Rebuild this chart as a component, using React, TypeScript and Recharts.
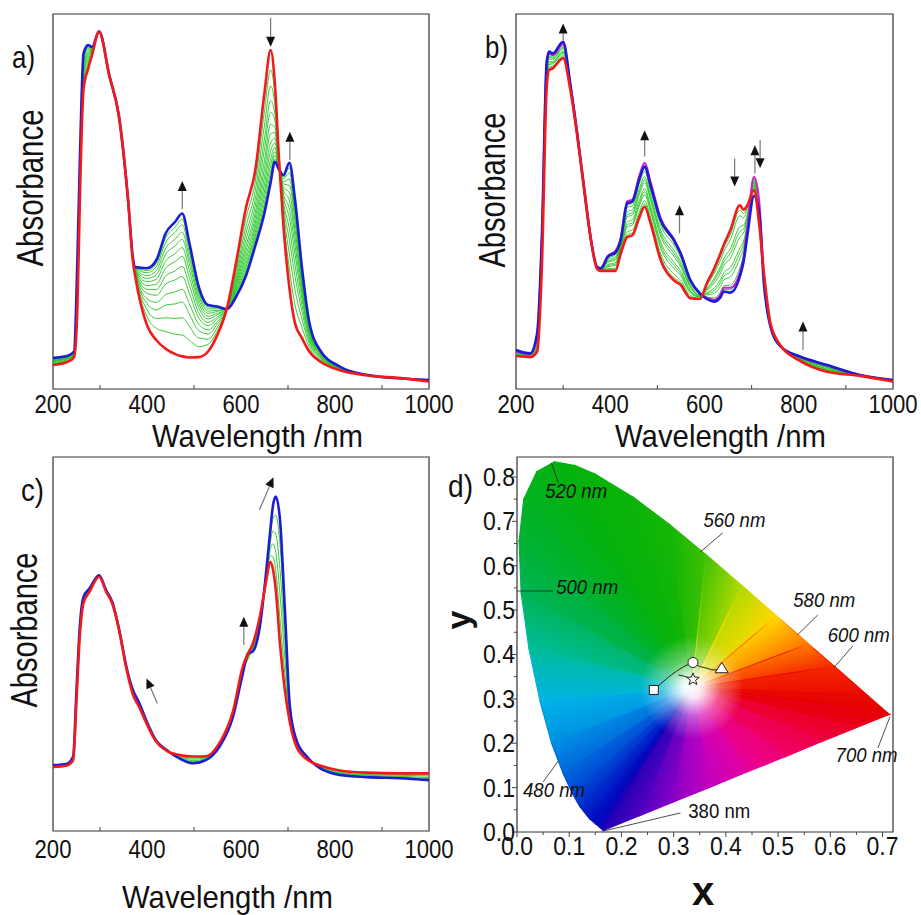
import {
  LineChart,
  Line,
  XAxis,
  YAxis,
  ReferenceArea,
  ReferenceLine,
  ReferenceDot,
  ComposedChart,
  Area,
  Scatter,
} from "recharts";

const FONT = "'Liberation Sans', Arial, Helvetica, sans-serif";
const INK = "#111";
const BLUE = "#1c1cd2";
const RED = "#f21a1a";
const GREEN = "#24c424";
const MAGENTA = "#cf22cf";

const WL_TICKS = [200, 300, 400, 500, 600, 700, 800, 900, 1000];

// ---- panel a: absorbance vs wavelength (arbitrary units 0..1)
const A_WL = [200, 230, 245, 252, 258, 265, 275, 283, 298, 320, 340, 360, 370, 375, 400, 420, 440, 460, 475, 490, 510, 530, 550, 570, 590, 610, 630, 650, 663, 672, 681, 690, 703, 715, 730, 745, 770, 810, 870, 940, 1000];
const A_BLUE = [0.083, 0.088, 0.1, 0.35, 0.65, 0.895, 0.917, 0.912, 0.953, 0.835, 0.73, 0.5, 0.35, 0.325, 0.322, 0.344, 0.416, 0.446, 0.468, 0.39, 0.273, 0.224, 0.22, 0.213, 0.247, 0.3, 0.38, 0.47, 0.55, 0.606, 0.585, 0.57, 0.603, 0.504, 0.32, 0.18, 0.1, 0.06, 0.037, 0.028, 0.024];
const A_RED = [0.064, 0.072, 0.085, 0.22, 0.55, 0.8, 0.855, 0.89, 0.953, 0.835, 0.73, 0.5, 0.34, 0.3, 0.17, 0.13, 0.107, 0.093, 0.087, 0.084, 0.085, 0.1, 0.145, 0.215, 0.34, 0.48, 0.58, 0.79, 0.904, 0.816, 0.61, 0.44, 0.27, 0.175, 0.135, 0.1, 0.072, 0.05, 0.036, 0.029, 0.02];
const A_GREEN = [
  [0.067, 0.074, 0.087, 0.24, 0.565, 0.814, 0.864, 0.893, 0.953, 0.835, 0.73, 0.5, 0.342, 0.304, 0.193, 0.162, 0.153, 0.146, 0.144, 0.13, 0.113, 0.119, 0.156, 0.214, 0.326, 0.453, 0.55, 0.742, 0.851, 0.785, 0.606, 0.46, 0.32, 0.224, 0.163, 0.112, 0.076, 0.052, 0.036, 0.029, 0.021],
  [0.069, 0.076, 0.089, 0.255, 0.577, 0.826, 0.872, 0.896, 0.953, 0.835, 0.73, 0.5, 0.343, 0.307, 0.211, 0.188, 0.19, 0.188, 0.19, 0.167, 0.136, 0.133, 0.165, 0.214, 0.315, 0.431, 0.526, 0.704, 0.808, 0.759, 0.603, 0.475, 0.36, 0.264, 0.185, 0.122, 0.08, 0.053, 0.036, 0.029, 0.021],
  [0.071, 0.078, 0.091, 0.27, 0.59, 0.836, 0.879, 0.898, 0.953, 0.835, 0.73, 0.5, 0.344, 0.31, 0.228, 0.211, 0.224, 0.227, 0.232, 0.2, 0.156, 0.147, 0.174, 0.214, 0.305, 0.412, 0.504, 0.668, 0.769, 0.736, 0.6, 0.49, 0.397, 0.3, 0.205, 0.13, 0.083, 0.054, 0.036, 0.029, 0.022],
  [0.073, 0.08, 0.092, 0.281, 0.597, 0.845, 0.884, 0.9, 0.953, 0.835, 0.73, 0.5, 0.345, 0.312, 0.241, 0.231, 0.252, 0.259, 0.266, 0.228, 0.173, 0.158, 0.18, 0.214, 0.296, 0.395, 0.486, 0.64, 0.738, 0.717, 0.598, 0.501, 0.427, 0.33, 0.222, 0.138, 0.085, 0.055, 0.036, 0.029, 0.022],
  [0.075, 0.081, 0.093, 0.29, 0.61, 0.853, 0.89, 0.902, 0.953, 0.835, 0.73, 0.5, 0.346, 0.314, 0.255, 0.25, 0.28, 0.291, 0.3, 0.255, 0.19, 0.169, 0.187, 0.214, 0.288, 0.379, 0.468, 0.61, 0.706, 0.698, 0.596, 0.513, 0.456, 0.359, 0.239, 0.145, 0.088, 0.056, 0.037, 0.029, 0.022],
  [0.076, 0.082, 0.094, 0.302, 0.613, 0.86, 0.894, 0.904, 0.953, 0.835, 0.73, 0.5, 0.346, 0.316, 0.266, 0.265, 0.302, 0.315, 0.327, 0.277, 0.203, 0.178, 0.192, 0.214, 0.281, 0.367, 0.454, 0.588, 0.681, 0.684, 0.594, 0.522, 0.48, 0.382, 0.252, 0.15, 0.09, 0.056, 0.037, 0.029, 0.022],
  [0.077, 0.083, 0.096, 0.31, 0.62, 0.867, 0.898, 0.905, 0.953, 0.835, 0.73, 0.5, 0.347, 0.318, 0.276, 0.28, 0.323, 0.34, 0.354, 0.298, 0.217, 0.187, 0.198, 0.214, 0.275, 0.354, 0.44, 0.566, 0.656, 0.669, 0.593, 0.531, 0.503, 0.405, 0.265, 0.156, 0.092, 0.057, 0.037, 0.028, 0.023],
  [0.078, 0.084, 0.096, 0.319, 0.626, 0.872, 0.902, 0.907, 0.953, 0.835, 0.73, 0.5, 0.348, 0.319, 0.286, 0.293, 0.342, 0.361, 0.377, 0.317, 0.228, 0.194, 0.202, 0.214, 0.269, 0.343, 0.428, 0.547, 0.635, 0.656, 0.591, 0.539, 0.523, 0.425, 0.276, 0.161, 0.093, 0.058, 0.037, 0.028, 0.023],
  [0.08, 0.085, 0.097, 0.33, 0.63, 0.878, 0.906, 0.908, 0.953, 0.835, 0.73, 0.5, 0.348, 0.32, 0.295, 0.305, 0.36, 0.382, 0.399, 0.335, 0.239, 0.202, 0.207, 0.214, 0.264, 0.332, 0.416, 0.528, 0.614, 0.644, 0.59, 0.547, 0.543, 0.445, 0.287, 0.166, 0.095, 0.058, 0.037, 0.028, 0.023],
  [0.081, 0.086, 0.098, 0.333, 0.637, 0.883, 0.909, 0.909, 0.953, 0.835, 0.73, 0.5, 0.349, 0.322, 0.302, 0.316, 0.376, 0.4, 0.418, 0.35, 0.249, 0.208, 0.21, 0.214, 0.259, 0.323, 0.406, 0.512, 0.596, 0.633, 0.588, 0.553, 0.56, 0.461, 0.296, 0.17, 0.096, 0.059, 0.037, 0.028, 0.023],
  [0.081, 0.087, 0.099, 0.34, 0.64, 0.887, 0.912, 0.91, 0.953, 0.835, 0.73, 0.5, 0.349, 0.323, 0.31, 0.327, 0.391, 0.418, 0.438, 0.366, 0.258, 0.214, 0.214, 0.214, 0.254, 0.314, 0.396, 0.496, 0.578, 0.623, 0.587, 0.56, 0.576, 0.478, 0.305, 0.174, 0.098, 0.059, 0.037, 0.028, 0.024],
  [0.082, 0.087, 0.099, 0.345, 0.646, 0.891, 0.915, 0.911, 0.953, 0.835, 0.73, 0.5, 0.35, 0.324, 0.316, 0.335, 0.404, 0.432, 0.453, 0.378, 0.265, 0.219, 0.217, 0.214, 0.251, 0.307, 0.388, 0.483, 0.564, 0.614, 0.586, 0.565, 0.59, 0.491, 0.313, 0.177, 0.099, 0.06, 0.037, 0.028, 0.024],
];
const A_ARROWS = [
  { x1: 475, y1: 0.48, x2: 475, y2: 0.555 },
  { x1: 663, y1: 0.99, x2: 663, y2: 0.913 },
  { x1: 704, y1: 0.61, x2: 704, y2: 0.686 },
];

// ---- panel b
const B_WL = [200, 230, 245, 255, 265, 270, 278, 300, 315, 330, 345, 358, 372, 380, 395, 411, 422, 436, 447, 461, 473, 486, 507, 535, 549, 570, 590, 605, 620, 634, 641, 655, 675, 683, 691, 705, 716, 726, 740, 762, 800, 860, 930, 1000];
const B_BLUE = [0.104, 0.095, 0.15, 0.41, 0.87, 0.9, 0.895, 0.926, 0.815, 0.68, 0.53, 0.406, 0.326, 0.322, 0.353, 0.364, 0.397, 0.495, 0.5, 0.557, 0.593, 0.54, 0.45, 0.397, 0.362, 0.29, 0.255, 0.24, 0.233, 0.245, 0.26, 0.257, 0.3, 0.34, 0.41, 0.515, 0.47, 0.282, 0.166, 0.113, 0.088, 0.064, 0.037, 0.024];
const B_RED = [0.088, 0.085, 0.1, 0.33, 0.8, 0.85, 0.855, 0.882, 0.8, 0.675, 0.53, 0.406, 0.32, 0.315, 0.315, 0.315, 0.36, 0.405, 0.41, 0.455, 0.486, 0.44, 0.344, 0.29, 0.278, 0.242, 0.24, 0.282, 0.32, 0.362, 0.385, 0.424, 0.49, 0.478, 0.49, 0.53, 0.44, 0.31, 0.175, 0.115, 0.077, 0.046, 0.035, 0.02];
const B_MAGENTA = [0.1, 0.093, 0.14, 0.4, 0.86, 0.895, 0.89, 0.92, 0.812, 0.68, 0.53, 0.406, 0.325, 0.322, 0.355, 0.368, 0.4, 0.5, 0.505, 0.565, 0.603, 0.55, 0.455, 0.4, 0.365, 0.29, 0.255, 0.243, 0.238, 0.252, 0.27, 0.27, 0.31, 0.35, 0.43, 0.566, 0.5, 0.3, 0.17, 0.113, 0.087, 0.063, 0.037, 0.024];
const B_GREEN = [
  [0.089, 0.086, 0.104, 0.336, 0.805, 0.854, 0.858, 0.885, 0.801, 0.675, 0.53, 0.406, 0.32, 0.315, 0.318, 0.318, 0.363, 0.411, 0.416, 0.462, 0.493, 0.447, 0.351, 0.297, 0.284, 0.245, 0.241, 0.279, 0.314, 0.354, 0.376, 0.412, 0.477, 0.468, 0.484, 0.532, 0.442, 0.308, 0.174, 0.115, 0.078, 0.047, 0.035, 0.02],
  [0.09, 0.087, 0.108, 0.342, 0.81, 0.858, 0.861, 0.889, 0.802, 0.676, 0.53, 0.406, 0.321, 0.316, 0.321, 0.322, 0.366, 0.419, 0.424, 0.47, 0.502, 0.455, 0.36, 0.306, 0.291, 0.249, 0.242, 0.276, 0.307, 0.344, 0.366, 0.399, 0.462, 0.457, 0.478, 0.535, 0.445, 0.306, 0.174, 0.115, 0.079, 0.049, 0.035, 0.021],
  [0.093, 0.088, 0.115, 0.354, 0.821, 0.865, 0.867, 0.895, 0.805, 0.677, 0.53, 0.406, 0.322, 0.317, 0.326, 0.33, 0.371, 0.432, 0.437, 0.486, 0.518, 0.47, 0.376, 0.322, 0.303, 0.256, 0.245, 0.269, 0.294, 0.327, 0.348, 0.374, 0.433, 0.437, 0.466, 0.54, 0.45, 0.302, 0.172, 0.114, 0.08, 0.051, 0.036, 0.021],
  [0.094, 0.089, 0.119, 0.36, 0.826, 0.869, 0.87, 0.898, 0.806, 0.677, 0.53, 0.406, 0.322, 0.318, 0.329, 0.333, 0.374, 0.438, 0.443, 0.493, 0.526, 0.477, 0.383, 0.33, 0.309, 0.26, 0.246, 0.266, 0.288, 0.319, 0.339, 0.362, 0.42, 0.427, 0.46, 0.542, 0.451, 0.3, 0.172, 0.114, 0.081, 0.053, 0.036, 0.021],
  [0.095, 0.09, 0.123, 0.366, 0.832, 0.873, 0.873, 0.902, 0.807, 0.677, 0.53, 0.406, 0.323, 0.318, 0.332, 0.337, 0.377, 0.446, 0.451, 0.501, 0.534, 0.485, 0.392, 0.338, 0.316, 0.264, 0.247, 0.263, 0.281, 0.309, 0.329, 0.349, 0.405, 0.416, 0.454, 0.545, 0.455, 0.297, 0.171, 0.114, 0.082, 0.054, 0.036, 0.022],
  [0.098, 0.091, 0.13, 0.378, 0.842, 0.88, 0.879, 0.908, 0.809, 0.678, 0.53, 0.406, 0.324, 0.319, 0.338, 0.344, 0.382, 0.459, 0.464, 0.516, 0.55, 0.5, 0.408, 0.354, 0.328, 0.271, 0.249, 0.257, 0.268, 0.292, 0.31, 0.324, 0.376, 0.395, 0.442, 0.55, 0.46, 0.293, 0.17, 0.114, 0.084, 0.057, 0.036, 0.022],
  [0.099, 0.092, 0.134, 0.384, 0.847, 0.884, 0.882, 0.911, 0.81, 0.678, 0.53, 0.406, 0.324, 0.32, 0.34, 0.348, 0.385, 0.465, 0.47, 0.523, 0.558, 0.507, 0.415, 0.362, 0.334, 0.274, 0.25, 0.254, 0.262, 0.284, 0.301, 0.312, 0.363, 0.386, 0.436, 0.552, 0.46, 0.291, 0.169, 0.114, 0.084, 0.058, 0.036, 0.023],
  [0.1, 0.093, 0.138, 0.39, 0.853, 0.888, 0.885, 0.915, 0.811, 0.679, 0.53, 0.406, 0.325, 0.32, 0.344, 0.352, 0.388, 0.473, 0.478, 0.532, 0.566, 0.515, 0.424, 0.37, 0.341, 0.278, 0.251, 0.251, 0.255, 0.274, 0.291, 0.299, 0.348, 0.374, 0.43, 0.555, 0.465, 0.289, 0.168, 0.114, 0.085, 0.06, 0.037, 0.023],
  [0.102, 0.094, 0.144, 0.4, 0.862, 0.894, 0.89, 0.921, 0.813, 0.679, 0.53, 0.406, 0.325, 0.321, 0.348, 0.358, 0.393, 0.484, 0.489, 0.545, 0.58, 0.528, 0.437, 0.384, 0.352, 0.284, 0.253, 0.245, 0.243, 0.259, 0.275, 0.277, 0.323, 0.357, 0.42, 0.56, 0.47, 0.285, 0.167, 0.113, 0.087, 0.062, 0.037, 0.023],
  [0.103, 0.095, 0.148, 0.406, 0.867, 0.898, 0.893, 0.924, 0.814, 0.68, 0.53, 0.406, 0.326, 0.322, 0.351, 0.362, 0.395, 0.49, 0.496, 0.552, 0.588, 0.535, 0.445, 0.392, 0.358, 0.288, 0.254, 0.242, 0.237, 0.251, 0.266, 0.265, 0.31, 0.347, 0.414, 0.562, 0.469, 0.283, 0.166, 0.113, 0.087, 0.063, 0.037, 0.024],
];
const B_ARROWS = [
  { x1: 300, y1: 0.93, x2: 300, y2: 0.975 },
  { x1: 473, y1: 0.62, x2: 473, y2: 0.69 },
  { x1: 547, y1: 0.415, x2: 547, y2: 0.49 },
  { x1: 664, y1: 0.615, x2: 664, y2: 0.54 },
  { x1: 707, y1: 0.575, x2: 707, y2: 0.65 },
  { x1: 718, y1: 0.664, x2: 718, y2: 0.589 },
  { x1: 809, y1: 0.104, x2: 809, y2: 0.18 },
];

// ---- panel c
const C_WL = [200, 230, 243, 250, 257, 265, 278, 298, 313, 327, 341, 356, 370, 384, 398, 419, 441, 469, 498, 526, 554, 583, 604, 615, 625, 640, 654, 662, 668, 674, 683, 693, 704, 718, 740, 768, 810, 867, 938, 1000];
const C_BLUE = [0.176, 0.18, 0.2, 0.377, 0.546, 0.626, 0.649, 0.684, 0.644, 0.609, 0.537, 0.44, 0.377, 0.341, 0.297, 0.243, 0.217, 0.194, 0.181, 0.19, 0.225, 0.306, 0.422, 0.475, 0.48, 0.546, 0.698, 0.8, 0.87, 0.894, 0.832, 0.6, 0.332, 0.243, 0.199, 0.168, 0.15, 0.144, 0.141, 0.136];
const C_RED = [0.171, 0.175, 0.19, 0.35, 0.52, 0.61, 0.64, 0.68, 0.64, 0.605, 0.535, 0.435, 0.365, 0.33, 0.29, 0.24, 0.215, 0.203, 0.199, 0.2, 0.235, 0.32, 0.44, 0.475, 0.5, 0.573, 0.671, 0.72, 0.7, 0.645, 0.5, 0.38, 0.29, 0.225, 0.192, 0.175, 0.162, 0.156, 0.154, 0.154];
const C_GREEN = [
  [0.172, 0.176, 0.192, 0.355, 0.525, 0.613, 0.642, 0.681, 0.641, 0.606, 0.535, 0.436, 0.367, 0.332, 0.291, 0.241, 0.215, 0.201, 0.195, 0.198, 0.233, 0.317, 0.436, 0.465, 0.496, 0.568, 0.676, 0.736, 0.734, 0.695, 0.566, 0.424, 0.298, 0.229, 0.193, 0.174, 0.16, 0.154, 0.151, 0.15],
  [0.173, 0.177, 0.194, 0.361, 0.53, 0.616, 0.644, 0.682, 0.642, 0.607, 0.536, 0.437, 0.37, 0.334, 0.293, 0.241, 0.216, 0.199, 0.192, 0.196, 0.231, 0.314, 0.433, 0.46, 0.492, 0.562, 0.682, 0.752, 0.768, 0.745, 0.633, 0.468, 0.307, 0.232, 0.195, 0.172, 0.157, 0.151, 0.149, 0.147],
  [0.174, 0.178, 0.196, 0.366, 0.536, 0.62, 0.645, 0.682, 0.642, 0.607, 0.536, 0.438, 0.372, 0.337, 0.294, 0.242, 0.216, 0.198, 0.188, 0.194, 0.229, 0.312, 0.429, 0.462, 0.488, 0.557, 0.687, 0.768, 0.802, 0.794, 0.699, 0.512, 0.315, 0.236, 0.196, 0.171, 0.155, 0.149, 0.146, 0.143],
  [0.175, 0.179, 0.198, 0.372, 0.541, 0.623, 0.647, 0.683, 0.643, 0.608, 0.537, 0.439, 0.375, 0.339, 0.296, 0.242, 0.217, 0.196, 0.185, 0.192, 0.227, 0.309, 0.426, 0.468, 0.484, 0.551, 0.693, 0.784, 0.836, 0.844, 0.766, 0.556, 0.324, 0.239, 0.198, 0.169, 0.152, 0.146, 0.144, 0.14],
];
const C_ARROWS = [
  { x1: 639, y1: 0.858, x2: 669, y2: 0.946 },
  { x1: 606, y1: 0.497, x2: 606, y2: 0.573 },
  { x1: 422, y1: 0.341, x2: 399, y2: 0.408 },
];

// ---- panel d: CIE 1931 chromaticity
const LOCUS_X = [0.166, 0.164, 0.158, 0.151, 0.139, 0.12, 0.106, 0.088, 0.066, 0.044, 0.023, 0.008, 0.004, 0.013, 0.038, 0.072, 0.111, 0.15, 0.223, 0.293, 0.362, 0.431, 0.497, 0.558, 0.608, 0.671, 0.697, 0.713];
const LOCUS_Y = [0.004, 0.005, 0.011, 0.018, 0.03, 0.058, 0.087, 0.133, 0.201, 0.295, 0.413, 0.538, 0.655, 0.75, 0.812, 0.834, 0.826, 0.806, 0.754, 0.692, 0.625, 0.555, 0.487, 0.424, 0.373, 0.308, 0.281, 0.265];
const PURPLE_X = [0.645, 0.58, 0.51, 0.44, 0.37, 0.3, 0.235];
const PURPLE_Y = [0.233, 0.202, 0.168, 0.135, 0.101, 0.068, 0.037];
const WHITE_POINT = { x: 0.335, y: 0.325 };
// colour at each boundary point: spectral locus first, then the purple line
const EDGE_COLORS = [
  "#2200b4", "#1800b8", "#0c04bc", "#0008c0", "#0014c4", "#0030cc", "#0048d4", "#0068dc", "#0090e2",
  "#00b4e6", "#00bc9c", "#00b456", "#00b234", "#00b222", "#02b216", "#04b210", "#06b20c", "#08b20a",
  "#0cb408", "#14b606", "#40c004", "#b0da00", "#ffd800", "#ff7800", "#f42800", "#ea0a00", "#e60400",
  "#e40000",
  "#ea0020", "#ee0044", "#f0006c", "#e4009e", "#c400c0", "#8a00c4", "#5000c0",
];
const CIE_LABELS = [
  { text: "520 nm", x: 0.054, y: 0.753, italic: true },
  { text: "560 nm", x: 0.357, y: 0.687, italic: true },
  { text: "500 nm", x: 0.075, y: 0.536, italic: true },
  { text: "580 nm", x: 0.529, y: 0.507, italic: true },
  { text: "600 nm", x: 0.595, y: 0.428, italic: true },
  { text: "700 nm", x: 0.61, y: 0.158, italic: true },
  { text: "480 nm", x: 0.0115, y: 0.079, italic: true },
  { text: "380 nm", x: 0.328, y: 0.032, italic: false },
];
const CIE_LEADERS = [
  { x1: 0.066, y1: 0.832, x2: 0.079, y2: 0.786 },
  { x1: 0.394, y1: 0.674, x2: 0.351, y2: 0.631 },
  { x1: 0.0, y1: 0.543, x2: 0.069, y2: 0.543 },
  { x1: 0.576, y1: 0.489, x2: 0.537, y2: 0.444 },
  { x1: 0.643, y1: 0.419, x2: 0.608, y2: 0.372 },
  { x1: 0.691, y1: 0.189, x2: 0.714, y2: 0.259 },
  { x1: 0.05, y1: 0.113, x2: 0.079, y2: 0.16 },
  { x1: 0.313, y1: 0.043, x2: 0.165, y2: 0.002 },
];
const TRACK_A = [
  { x: 0.262, y: 0.32 }, { x: 0.287, y: 0.346 }, { x: 0.305, y: 0.362 }, { x: 0.319, y: 0.3725 }, { x: 0.337, y: 0.382 },
];
const TRACK_B = [
  { x: 0.337, y: 0.382 }, { x: 0.346, y: 0.375 }, { x: 0.356, y: 0.371 }, { x: 0.364, y: 0.369 }, { x: 0.372, y: 0.366 }, { x: 0.381, y: 0.365 }, { x: 0.392, y: 0.369 },
];
const TRACK_C = [{ x: 0.309, y: 0.354 }, { x: 0.32, y: 0.351 }, { x: 0.337, y: 0.344 }];
const MARK_SQUARE = [{ x: 0.262, y: 0.32 }];
const MARK_CIRCLE = [{ x: 0.337, y: 0.382 }];
const MARK_TRIANGLE = [{ x: 0.392, y: 0.369 }];
const MARK_STAR = [{ x: 0.337, y: 0.344 }];
const CIE_X_TICKS = [0, 0.05, 0.1, 0.15, 0.2, 0.25, 0.3, 0.35, 0.4, 0.45, 0.5, 0.55, 0.6, 0.65, 0.7];
const CIE_Y_TICKS = [0, 0.05, 0.1, 0.15, 0.2, 0.25, 0.3, 0.35, 0.4, 0.45, 0.5, 0.55, 0.6, 0.65, 0.7, 0.75, 0.8];

function ArrowShape(p: any) {
  const { x1, y1, x2, y2 } = p;
  const dx = x2 - x1;
  const dy = y2 - y1;
  const len = Math.hypot(dx, dy) || 1;
  const ux = dx / len;
  const uy = dy / len;
  const hl = 10;
  const hw = 4.5;
  const bx = x2 - ux * hl;
  const by = y2 - uy * hl;
  const pts = `${x2},${y2} ${bx - uy * hw},${by + ux * hw} ${bx + uy * hw},${by - ux * hw}`;
  return (
    <g>
      <line x1={x1} y1={y1} x2={bx} y2={by} stroke="#777" strokeWidth={1.2} />
      <polygon points={pts} fill="#111" />
    </g>
  );
}

function wlTick(dy: number) {
  return (p: any) => {
    const v = p.payload.value;
    if (v % 200 !== 0) {
      return <line x1={p.x} x2={p.x} y1={p.y} y2={p.y - 4} stroke="#444" strokeWidth={1} />;
    }
    const s = String(v);
    return (
      <text x={p.x} y={p.y + dy} textAnchor="middle" fontFamily={FONT} fontSize={26} fill={INK}
        textLength={s.length * 12.3} lengthAdjust="spacingAndGlyphs">
        {s}
      </text>
    );
  };
}

type PanelProps = {
  wl: number[];
  blue: number[];
  red: number[];
  greens: number[][];
  magenta?: number[];
  arrows: { x1: number; y1: number; x2: number; y2: number }[];
  left: number;
  top: number;
  width: number;
  height: number;
  margin: { top: number; right: number; bottom: number; left: number };
  dy: number;
};

function SpectrumPanel({ wl, blue, red, greens, magenta, arrows, left, top, width, height, margin, dy }: PanelProps) {
  const rows = wl.map((w, i) => {
    const row: Record<string, number> = { wl: w, blue: blue[i], red: red[i] };
    greens.forEach((g, k) => {
      row["g" + k] = g[i];
    });
    if (magenta) row.mag = magenta[i];
    return row;
  });
  return (
    <div style={{ position: "absolute", left, top }}>
      <LineChart width={width} height={height} data={rows} margin={margin}>
        <XAxis type="number" dataKey="wl" domain={[200, 1000]} ticks={WL_TICKS} interval={0}
          tickSize={0} tickMargin={0} axisLine={false} tickLine={false} height={30}
          tick={wlTick(dy)} allowDataOverflow />
        <YAxis hide type="number" domain={[0, 1]} allowDataOverflow />
        {greens.map((_, k) => (
          <Line key={k} dataKey={"g" + k} type="monotone" stroke={GREEN} strokeWidth={0.9}
            dot={false} activeDot={false} isAnimationActive={false} />
        ))}
        {magenta && (
          <Line dataKey="mag" type="monotone" stroke={MAGENTA} strokeWidth={2.2}
            dot={false} activeDot={false} isAnimationActive={false} />
        )}
        <Line dataKey="blue" type="monotone" stroke={BLUE} strokeWidth={2.6}
          dot={false} activeDot={false} isAnimationActive={false} />
        <Line dataKey="red" type="monotone" stroke={RED} strokeWidth={2.6}
          dot={false} activeDot={false} isAnimationActive={false} />
        <ReferenceArea x1={200} x2={1000} y1={0} y2={1} fill="none" fillOpacity={0}
          stroke="#333" strokeWidth={1.2} />
        {arrows.map((a, i) => (
          <ReferenceLine key={i} segment={[{ x: a.x1, y: a.y1 }, { x: a.x2, y: a.y2 }]} shape={ArrowShape} />
        ))}
      </LineChart>
    </div>
  );
}

const isMajor = (v: number) => Math.abs(v * 10 - Math.round(v * 10)) < 1e-6;

function cieXTick(p: any) {
  const v = p.payload.value;
  const major = isMajor(v);
  return (
    <g>
      <line x1={p.x} x2={p.x} y1={p.y} y2={p.y + (major ? 5 : 3)} stroke="#444" />
      {major && (
        <text x={p.x} y={p.y + 23} textAnchor="middle" fontFamily={FONT} fontSize={25} fill={INK}
          textLength={32} lengthAdjust="spacingAndGlyphs">
          {v.toFixed(1)}
        </text>
      )}
    </g>
  );
}

function cieYTick(p: any) {
  const v = p.payload.value;
  const major = isMajor(v);
  return (
    <g>
      <line x1={p.x} x2={p.x - (major ? 5 : 3)} y1={p.y} y2={p.y} stroke="#444" />
      {major && (
        <text x={p.x - 2} y={p.y + 9} textAnchor="end" fontFamily={FONT} fontSize={25} fill={INK}
          textLength={32} lengthAdjust="spacingAndGlyphs">
          {v.toFixed(1)}
        </text>
      )}
    </g>
  );
}

function Star({ cx, cy }: any) {
  const pts: string[] = [];
  for (let i = 0; i < 10; i++) {
    const r = i % 2 === 0 ? 6.5 : 2.8;
    const a = -Math.PI / 2 + (i * Math.PI) / 5;
    pts.push(`${cx + r * Math.cos(a)},${cy + r * Math.sin(a)}`);
  }
  return <polygon points={pts.join(" ")} fill="#fff" stroke="#222" strokeWidth={1} />;
}

function CiePanel() {
  const boundary = [
    ...LOCUS_X.map((x, i) => ({ x, y: LOCUS_Y[i] })),
    ...PURPLE_X.map((x, i) => ({ x, y: PURPLE_Y[i] })),
  ];
  // each wedge runs from the white point to one edge segment. Its gradient lives in the
  // path's bounding box (which reaches down to y = 0); iso-colour lines run parallel to
  // the wedge's centre line so neighbouring wedges meet without hard seams.
  const wedges = boundary.map((p, i) => {
    const j = (i + 1) % boundary.length;
    const q = boundary[j];
    const xs = [WHITE_POINT.x, p.x, q.x];
    const xmin = Math.min(...xs);
    const xmax = Math.max(...xs);
    const ymax = Math.max(WHITE_POINT.y, p.y, q.y);
    const fx = (x: number) => (x - xmin) / (xmax - xmin);
    const fy = (y: number) => (ymax - y) / ymax;
    const w = { x: fx(WHITE_POINT.x), y: fy(WHITE_POINT.y) };
    const a = { x: fx(p.x), y: fy(p.y) };
    const b = { x: fx(q.x), y: fy(q.y) };
    let dx = (a.x + b.x) / 2 - w.x;
    let dy = (a.y + b.y) / 2 - w.y;
    const l = Math.hypot(dx, dy) || 1;
    dx /= l;
    dy /= l;
    const nx = -dy;
    const ny = dx;
    const sa = nx * (a.x - w.x) + ny * (a.y - w.y);
    const sb = nx * (b.x - w.x) + ny * (b.y - w.y);
    return {
      id: `cieEdge${i}`,
      from: EDGE_COLORS[i],
      to: EDGE_COLORS[j],
      g: { x1: w.x + nx * sa, y1: w.y + ny * sa, x2: w.x + nx * sb, y2: w.y + ny * sb },
      data: [WHITE_POINT, p, q, WHITE_POINT],
    };
  });
  const loop = [...boundary, boundary[0]];
  return (
    <div style={{ position: "absolute", left: 460, top: 440 }}>
      <ComposedChart width={460} height={460} margin={{ top: 17, right: 27, bottom: 38, left: 17 }}>
        <defs>
          {wedges.map((w) => (
            <linearGradient key={w.id} id={w.id} x1={w.g.x1} y1={w.g.y1} x2={w.g.x2} y2={w.g.y2}>
              <stop offset="0" stopColor={w.from} />
              <stop offset="1" stopColor={w.to} />
            </linearGradient>
          ))}
          <radialGradient id="cieWhite" cx="0.467" cy="0.61" r="0.14">
            <stop offset="0" stopColor="#fff" stopOpacity={1} />
            <stop offset="0.2" stopColor="#fff" stopOpacity={0.9} />
            <stop offset="0.55" stopColor="#fff" stopOpacity={0.35} />
            <stop offset="1" stopColor="#fff" stopOpacity={0} />
          </radialGradient>
        </defs>
        <XAxis type="number" dataKey="x" domain={[0, 0.72]} ticks={CIE_X_TICKS} interval={0}
          tickSize={0} tickMargin={0} axisLine={false} tickLine={false} height={30}
          tick={cieXTick} allowDataOverflow />
        <YAxis type="number" dataKey="y" domain={[0, 0.845]} ticks={CIE_Y_TICKS} interval={0}
          tickSize={0} tickMargin={0} axisLine={false} tickLine={false} width={40}
          tick={cieYTick} allowDataOverflow />
        {wedges.map((w) => (
          <Area key={w.id} data={w.data} dataKey="y" type="linear" fill={`url(#${w.id})`} fillOpacity={1}
            stroke={`url(#${w.id})`} strokeWidth={1.2} dot={false} activeDot={false} isAnimationActive={false} />
        ))}
        <Area data={loop} dataKey="y" type="linear" fill="url(#cieWhite)" fillOpacity={1}
          stroke="none" dot={false} activeDot={false} isAnimationActive={false} />
        {CIE_LEADERS.map((l, i) => (
          <ReferenceLine key={i} segment={[{ x: l.x1, y: l.y1 }, { x: l.x2, y: l.y2 }]}
            stroke="#222" strokeWidth={0.8} />
        ))}
        {CIE_LABELS.map((l, i) => (
          <ReferenceDot key={i} x={l.x} y={l.y} r={0}
            shape={(p: any) => (
              <text x={p.cx} y={p.cy} fontFamily={FONT} fontSize={21} fontStyle={l.italic ? "italic" : "normal"}
                fill={INK} textLength={62} lengthAdjust="spacingAndGlyphs">
                {l.text}
              </text>
            )} />
        ))}
        <Line data={TRACK_A} dataKey="y" type="monotone" stroke="#222" strokeWidth={1}
          dot={false} activeDot={false} isAnimationActive={false} />
        <Line data={TRACK_B} dataKey="y" type="monotone" stroke="#222" strokeWidth={1}
          dot={false} activeDot={false} isAnimationActive={false} />
        <Line data={TRACK_C} dataKey="y" type="monotone" stroke="#222" strokeWidth={1}
          dot={false} activeDot={false} isAnimationActive={false} />
        <Scatter data={MARK_SQUARE} dataKey="y" isAnimationActive={false}
          shape={(p: any) => <rect x={p.cx - 4.5} y={p.cy - 4.5} width={9} height={9} fill="#fff" stroke="#222" />} />
        <Scatter data={MARK_CIRCLE} dataKey="y" isAnimationActive={false}
          shape={(p: any) => <circle cx={p.cx} cy={p.cy} r={5} fill="#fff" stroke="#222" />} />
        <Scatter data={MARK_TRIANGLE} dataKey="y" isAnimationActive={false}
          shape={(p: any) => (
            <polygon points={`${p.cx},${p.cy - 6} ${p.cx - 6.5},${p.cy + 4.5} ${p.cx + 6.5},${p.cy + 4.5}`}
              fill="#fff" stroke="#222" />
          )} />
        <Scatter data={MARK_STAR} dataKey="y" isAnimationActive={false} shape={(p: any) => <Star cx={p.cx} cy={p.cy} />} />
        <ReferenceArea x1={0} x2={0.72} y1={0} y2={0.845} fill="none" fillOpacity={0} stroke="#333" strokeWidth={1.2} />
      </ComposedChart>
    </div>
  );
}

export default function App() {
  const title = { fontFamily: FONT, fill: INK };
  return (
    <div style={{ position: "absolute", left: 0, top: 0, width: 921, height: 915, background: "#fff" }}>
      <SpectrumPanel wl={A_WL} blue={A_BLUE} red={A_RED} greens={A_GREEN} arrows={A_ARROWS}
        left={0} top={0} width={470} height={440} margin={{ top: 14, right: 41, bottom: 21, left: 53 }} dy={24} />
      <SpectrumPanel wl={B_WL} blue={B_BLUE} red={B_RED} greens={B_GREEN} magenta={B_MAGENTA} arrows={B_ARROWS}
        left={460} top={0} width={461} height={440} margin={{ top: 14, right: 28, bottom: 21, left: 56 }} dy={24} />
      <SpectrumPanel wl={C_WL} blue={C_BLUE} red={C_RED} greens={C_GREEN} arrows={C_ARROWS}
        left={0} top={440} width={470} height={460} margin={{ top: 17, right: 41, bottom: 39, left: 53 }} dy={27} />
      <CiePanel />
      <svg width={921} height={915} style={{ position: "absolute", left: 0, top: 0, pointerEvents: "none" }}>
        <g {...title} fontSize={32}>
          <text x={12} y={68} textLength={23} lengthAdjust="spacingAndGlyphs">a)</text>
          <text x={485} y={58} textLength={23} lengthAdjust="spacingAndGlyphs">b)</text>
          <text x={21} y={501} textLength={23} lengthAdjust="spacingAndGlyphs">c)</text>
          <text x={448} y={497} textLength={25} lengthAdjust="spacingAndGlyphs">d)</text>
          <text x={152} y={447} textLength={211} lengthAdjust="spacingAndGlyphs">Wavelength /nm</text>
          <text x={615} y={447} textLength={211} lengthAdjust="spacingAndGlyphs">Wavelength /nm</text>
          <text x={122} y={908} textLength={211} lengthAdjust="spacingAndGlyphs">Wavelength /nm</text>
        </g>
        <g {...title} fontSize={36} textAnchor="middle">
          <text transform="translate(43,188) rotate(-90)" textLength={157} lengthAdjust="spacingAndGlyphs">Absorbance</text>
          <text transform="translate(505,190) rotate(-90)" textLength={155} lengthAdjust="spacingAndGlyphs">Absorbance</text>
          <text transform="translate(37,630) rotate(-90)" textLength={155} lengthAdjust="spacingAndGlyphs">Absorbance</text>
        </g>
        <text x={703} y={905} textAnchor="middle" fontFamily={FONT} fontSize={40} fontWeight="bold" fill={INK}>x</text>
        <text transform="translate(470,620) rotate(-90)" textAnchor="middle" fontFamily={FONT} fontSize={34}
          fontWeight="bold" fill={INK}>y</text>
      </svg>
    </div>
  );
}
